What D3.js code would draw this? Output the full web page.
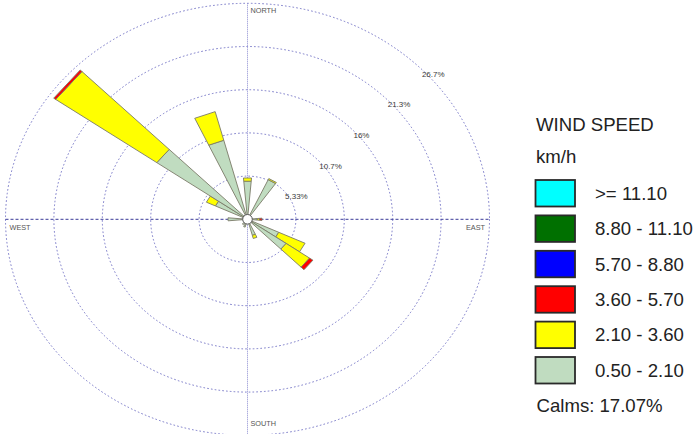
<!DOCTYPE html>
<html>
<head>
<meta charset="utf-8">
<script src="https://cdn.jsdelivr.net/npm/d3@7"></script>
<style>
  html, body { margin: 0; padding: 0; background: #fff; }
  svg { display: block; font-family: "Liberation Sans", Arial, sans-serif; }
</style>
</head>
<body>
<svg id="chart" width="694" height="434"></svg>
<script>
// ---- data ----
const directions = [0, 30, 90, 120, 130, 160, 200, 220, 270, 300, 310, 340];
const speedClasses = ["0.50 - 2.10", "2.10 - 3.60", "3.60 - 5.70", "5.70 - 8.80", "8.80 - 11.10", ">= 11.10"];
const s050_210 = [4.72, 5.40, 1.08, 3.80, 5.20, 2.05, 1.00, 0.80, 2.15, 3.90, 12.20, 10.10];
const s210_360 = [0.40, 0.15, 0.26, 3.20, 3.15, 0.40, 0.00, 0.00, 0.00, 1.10, 13.60, 3.66];
const s360_570 = [0.00, 0.00, 0.26, 0.00, 0.45, 0.00, 0.00, 0.00, 0.00, 0.00, 0.27, 0.00];
const s570_880 = [0, 0, 0, 0, 0, 0, 0, 0, 0, 0, 0, 0];
const s880_1110 = [0, 0, 0, 0, 0, 0, 0, 0, 0, 0, 0, 0];
const s1110 = [0, 0, 0, 0, 0, 0, 0, 0, 0, 0, 0, 0];
const ringValues = [5.333, 10.667, 16, 21.333, 26.667];
const ringLabels = ["5.33%", "10.7%", "16%", "21.3%", "26.7%"];
const compass = ["NORTH", "EAST", "SOUTH", "WEST"];
const legendTitle = ["WIND SPEED", "km/h"];
const calmsText = "Calms: 17.07%";
const colors = ["#c0dcc0", "#ffff00", "#ff0000", "#0000ff", "#007000", "#00ffff"];

// ---- layout ----
const svg = d3.select("#chart");
const cx = 247.5, cy = 219.3;
const maxVal = 26.667;
const rX = d3.scaleLinear().domain([0, maxVal]).range([0, 242]);
const rY = d3.scaleLinear().domain([0, maxVal]).range([0, 216]);
const binHalf = 5; // degrees
const rad = d => d * Math.PI / 180;
const pt = (deg, v) => [cx + rX(v) * Math.sin(rad(deg)), cy - rY(v) * Math.cos(rad(deg))];

// rings
svg.append("g").selectAll("ellipse").data(ringValues).join("ellipse")
  .attr("cx", cx).attr("cy", cy)
  .attr("rx", d => rX(d)).attr("ry", d => rY(d))
  .attr("fill", "none").attr("stroke", "#7878c8").attr("stroke-width", 1)
  .attr("stroke-dasharray", "1.6,2.2");

// axes lines
svg.append("line").attr("x1", cx - rX(maxVal)).attr("x2", cx + rX(maxVal))
  .attr("y1", cy).attr("y2", cy)
  .attr("stroke", "#3a3a98").attr("stroke-width", 1).attr("stroke-dasharray", "3,2");
svg.append("line").attr("x1", cx).attr("x2", cx)
  .attr("y1", cy - rY(maxVal)).attr("y2", 434)
  .attr("stroke", "#8a8ad0").attr("stroke-width", 1).attr("stroke-dasharray", "1,1");

// ring labels
svg.append("g").selectAll("text").data(ringValues).join("text")
  .attr("x", d => pt(45, d)[0] + 3.3)
  .attr("y", d => pt(45, d)[1] + 10.3)
  .attr("font-size", 8).attr("fill", "#3a3a3a")
  .text((d, i) => ringLabels[i]);

// compass labels
const compassPos = [
  {x: cx + 3, y: cy - rY(maxVal) + 9.5, anchor: "start"},
  {x: cx + rX(maxVal) - 4.5, y: cy + 10.3, anchor: "end"},
  {x: cx + 3, y: 425.8, anchor: "start"},
  {x: cx - rX(maxVal) + 4, y: cy + 10.3, anchor: "start"}
];
svg.append("g").selectAll("text").data(compass).join("text")
  .attr("x", (d, i) => compassPos[i].x).attr("y", (d, i) => compassPos[i].y)
  .attr("text-anchor", (d, i) => compassPos[i].anchor)
  .attr("font-size", 7.3).attr("fill", "#555")
  .text(d => d);

// petals
const series = [s050_210, s210_360, s360_570, s570_880, s880_1110, s1110];
const segs = [];
directions.forEach((dir, i) => {
  let acc = 0;
  series.forEach((s, k) => {
    const v = s[i];
    if (v > 0) {
      segs.push({dir, r0: acc, r1: acc + v, k});
      acc += v;
    }
  });
});
const line = d3.line();
svg.append("g").selectAll("path").data(segs).join("path")
  .attr("d", d => line([
    pt(d.dir - binHalf, d.r0), pt(d.dir + binHalf, d.r0),
    pt(d.dir + binHalf, d.r1), pt(d.dir - binHalf, d.r1)
  ]) + "Z")
  .attr("fill", d => colors[d.k])
  .attr("stroke", "#7a7a68").attr("stroke-width", 0.9)
  .attr("stroke-linejoin", "miter");

// calm circle
svg.append("circle").attr("cx", cx).attr("cy", cy).attr("r", 4.8)
  .attr("fill", "#fff").attr("stroke", "#555").attr("stroke-width", 1);

// legend
const lg = svg.append("g");
lg.append("text").attr("x", 536).attr("y", 130.7).attr("font-size", 18.6).attr("fill", "#222").text(legendTitle[0]);
lg.append("text").attr("x", 536).attr("y", 163.3).attr("font-size", 18.6).attr("fill", "#222").text(legendTitle[1]);
const legendOrder = d3.range(speedClasses.length).reverse();
const ly = d3.scalePoint().domain(legendOrder).range([179.5, 356.5]);
const items = lg.selectAll("g.item").data(legendOrder).join("g").attr("class", "item")
  .attr("transform", d => `translate(535,${ly(d)})`);
items.append("rect").attr("x", 0.5).attr("y", 0.5).attr("width", 39.5).attr("height", 26.5)
  .attr("fill", d => colors[d]).attr("stroke", "#2a2a2a").attr("stroke-width", 1.8);
items.append("text").attr("x", 60).attr("y", 20.3).attr("font-size", 18.6).attr("fill", "#222")
  .text(d => speedClasses[d]);
lg.append("text").attr("x", 536.5).attr("y", 411.7).attr("font-size", 18.6).attr("fill", "#222").text(calmsText);
</script>
</body>
</html>
